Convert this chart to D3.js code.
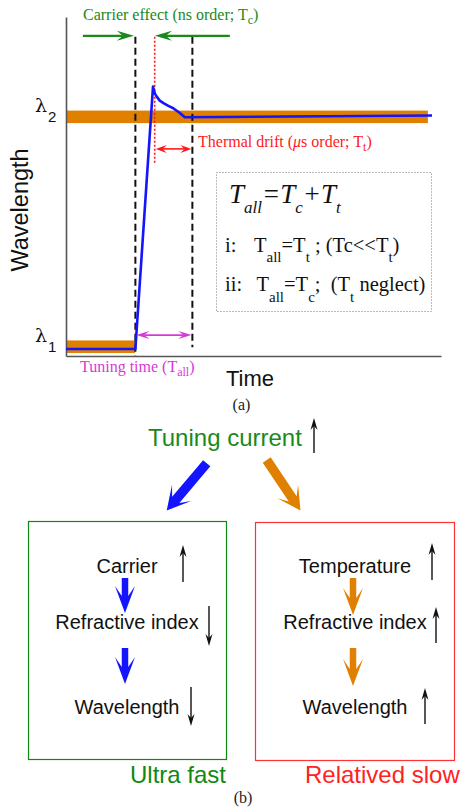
<!DOCTYPE html>
<html><head><meta charset="utf-8">
<script src="https://cdn.jsdelivr.net/npm/d3@7"></script>
<style>body{margin:0;background:#fff} svg{display:block}</style>
</head><body>
<svg id="c" width="461" height="808"></svg>
<script>
// ---------- data (panel a) ----------
const timeVals = [0, 18.5, 23.2, 23.7, 24.2, 25.0, 26.0, 27.3, 28.6, 30.1, 31.7, 97.6];
const waveVals = [0, 0, 1.13, 1.10, 1.087, 1.07, 1.059, 1.047, 1.037, 1.02, 0.998, 1.006];
const bandStart = [0, 0];
const bandEnd = [18.4, 96.5];
const bandLevel = [0.01, 1.0];
const bandHalf = 0.027;
const levelSubs = ["1", "2"];
const dashedTimes = [18.5, 33.7];
const dashedTop = 1.345;
const dashedBottom = [-0.03, 0.008];
const carrierTime = 23.65;
const carrierBottom = 0.80;
const carrierArrowLevel = 1.349;
const carrierArrowFrom = [4.5, 43.7];
const carrierArrowTo = [18.1, 23.7];
const thermalLevel = 0.862;
const tuningLevel = 0.06;

// ---------- data (panel b) ----------
const leftLabels = ["Carrier", "Refractive index", "Wavelength"];
const leftDirs = ["up", "down", "down"];
const rightLabels = ["Temperature", "Refractive index", "Wavelength"];
const rightDirs = ["up", "up", "up"];

const svg = d3.select("#c");
const x = d3.scaleLinear().domain([0, 100]).range([66, 441]);
const y = d3.scaleLinear().domain([-0.03, 1.43]).range([356, 17]);

const GREEN = "#1a8a1a", RED = "#ff1a1a", MAG = "#d63ad6", ORANGE = "#e08000", BLUE = "#1414ff";
const SERIF = "'Liberation Serif','Times New Roman',serif";
const SANS = "'Liberation Sans',Arial,sans-serif";

function headPath(tx, ty, ang, len, w, join) {
  const c = Math.cos(ang), s = Math.sin(ang);
  const P = (u, v) => [tx + u * c - v * s, ty + u * s + v * c];
  const pts = [P(0, 0), P(-len, -w / 2), P(-join, 0), P(-len, w / 2)];
  return "M" + pts.map(p => p.join(",")).join("L") + "Z";
}
function lineArrow(g, x1, y1, x2, y2, color, sw, len, w, join, both) {
  const ang = Math.atan2(y2 - y1, x2 - x1);
  const c = Math.cos(ang), s = Math.sin(ang);
  const sx = both ? x1 + c * join : x1, sy = both ? y1 + s * join : y1;
  g.append("line").attr("x1", sx).attr("y1", sy).attr("x2", x2 - c * join).attr("y2", y2 - s * join)
    .attr("stroke", color).attr("stroke-width", sw);
  g.append("path").attr("d", headPath(x2, y2, ang, len, w, join)).attr("fill", color);
  if (both) g.append("path").attr("d", headPath(x1, y1, ang + Math.PI, len, w, join)).attr("fill", color);
}
function fatArrow(g, x1, y1, x2, y2, color, sw, hw, barbBack, joinBack) {
  const L = Math.hypot(x2 - x1, y2 - y1);
  const ang = Math.atan2(y2 - y1, x2 - x1);
  const c = Math.cos(ang), s = Math.sin(ang);
  const P = (u, v) => [x1 + u * c - v * s, y1 + u * s + v * c];
  const pts = [P(0, -sw / 2), P(L - joinBack, -sw / 2), P(L - barbBack, -hw / 2), P(L, 0),
               P(L - barbBack, hw / 2), P(L - joinBack, sw / 2), P(0, sw / 2)];
  g.append("path").attr("d", "M" + pts.map(p => p.join(",")).join("L") + "Z").attr("fill", color);
}

// ---------- panel a ----------
const ga = svg.append("g");

ga.selectAll("rect.band").data(bandLevel).enter().append("rect")
  .attr("x", (d, i) => x(bandStart[i]))
  .attr("width", (d, i) => x(bandEnd[i]) - x(bandStart[i]))
  .attr("y", d => y(d + bandHalf))
  .attr("height", d => y(d - bandHalf) - y(d + bandHalf))
  .attr("fill", ORANGE);

ga.append("g").attr("transform", `translate(${x(0)},0)`)
  .call(d3.axisLeft(y).tickValues([]).tickSizeOuter(0))
  .select(".domain").attr("stroke", "#555").attr("stroke-width", 1.6);
ga.append("g").attr("transform", `translate(0,${y(-0.03)})`)
  .call(d3.axisBottom(x).tickValues([]).tickSizeOuter(0))
  .select(".domain").attr("stroke", "#555").attr("stroke-width", 1.6);

ga.selectAll("line.dash").data(dashedTimes).enter().append("line")
  .attr("x1", d => x(d)).attr("x2", d => x(d))
  .attr("y1", y(dashedTop)).attr("y2", (d, i) => y(dashedBottom[i]))
  .attr("stroke", "#111").attr("stroke-width", 2).attr("stroke-dasharray", "7,4");
ga.append("line").attr("x1", x(carrierTime)).attr("x2", x(carrierTime))
  .attr("y1", y(dashedTop)).attr("y2", y(carrierBottom))
  .attr("stroke", RED).attr("stroke-width", 1.6).attr("stroke-dasharray", "2,2");

const pts = timeVals.map((t, i) => [t, waveVals[i]]);
ga.append("path").datum(pts)
  .attr("d", d3.line().x(d => x(d[0])).y(d => y(d[1])))
  .attr("fill", "none").attr("stroke", BLUE).attr("stroke-width", 2.6).attr("stroke-linejoin", "round");

carrierArrowFrom.forEach((f, i) => {
  lineArrow(ga, x(f), y(carrierArrowLevel), x(carrierArrowTo[i]), y(carrierArrowLevel), GREEN, 2.2, 17, 10, 11, false);
});
lineArrow(ga, x(carrierTime) + 1, y(thermalLevel), x(dashedTimes[1]) - 1, y(thermalLevel), RED, 1.6, 11, 8, 7, true);
lineArrow(ga, x(dashedTimes[0]) + 1, y(tuningLevel), x(dashedTimes[1]) - 1, y(tuningLevel), MAG, 1.6, 13, 8, 8, true);

bandLevel.forEach((lv, i) => {
  const t = ga.append("text").attr("x", 35).attr("y", y(lv) - 4.5)
    .attr("font-family", "'DejaVu Serif',serif").attr("font-size", 19).attr("fill", "#111");
  t.append("tspan").text("λ");
  t.append("tspan").attr("dx", 1).attr("dy", 10).attr("font-family", SANS).attr("font-size", 15).text(levelSubs[i]);
});

ga.append("text").attr("x", 250).attr("y", 385.5).attr("text-anchor", "middle")
  .attr("font-family", SANS).attr("font-size", 22).attr("fill", "#111").text("Time");
ga.append("text").attr("transform", "translate(28,210) rotate(-90)").attr("text-anchor", "middle")
  .attr("font-family", SANS).attr("font-size", 23.5).attr("fill", "#111").text("Wavelength");

function subText(g, xx, yy, color, size, parts) {
  const t = g.append("text").attr("x", xx).attr("y", yy).attr("font-family", SERIF)
    .attr("font-size", size).attr("fill", color).attr("xml:space", "preserve");
  parts.forEach(p => {
    const ts = t.append("tspan").text(p[0]);
    if (p[1]) ts.attr("font-size", p[1]);
    if (p[2]) ts.attr("dy", p[2]);
    if (p[3]) ts.attr("font-style", "italic");
    if (p[4] !== undefined) ts.attr("x", p[4]);
  });
  return t;
}
subText(ga, 83, 20, GREEN, 16, [["Carrier effect (ns order; T"], ["c", 12, 4], [")", null, -4]]);
subText(ga, 198, 146.5, RED, 16, [["Thermal drift ("], ["μ", null, null, true], ["s order; T"], ["t", 12, 4], [")", null, -4]]);
subText(ga, 80, 371.5, MAG, 16, [["Tuning time (T"], ["all", 12, 4], [")", null, -4]]);

ga.append("rect").attr("x", 216.5).attr("y", 172.5).attr("width", 215).attr("height", 139)
  .attr("fill", "none").attr("stroke", "#777").attr("stroke-width", 1).attr("stroke-dasharray", "1,2");
subText(ga, 229, 203, "#111", 27, [["T", null, null, true], ["all", 17, 10, true], ["=T", null, -10, true],
  ["c", 17, 10, true], ["+T", null, -10, true], ["t", 17, 10, true]]);
subText(ga, 225, 252, "#111", 20.5, [["i:"], ["T", null, null, false, 254], ["all", 15, 10], ["=T", null, -10],
  ["t", 15, 10], [" ; (Tc<<T", null, -10], ["t", 15, 10], [")", null, -10]]);
subText(ga, 225, 291, "#111", 20.5, [["ii:"], ["T", null, null, false, 256.5], ["all", 15, 11], ["=T", null, -11],
  ["c", 15, 11], [";  (T", null, -11], ["t", 15, 11], [" neglect)", null, -11]]);

ga.append("text").attr("x", 241.5).attr("y", 410).attr("text-anchor", "middle")
  .attr("font-family", SERIF).attr("font-size", 16).attr("fill", "#222").text("(a)");

// ---------- panel b ----------
const gb = svg.append("g");
gb.append("text").attr("x", 148).attr("y", 445.5).attr("font-family", SANS).attr("font-size", 24)
  .attr("fill", GREEN).text("Tuning current");
lineArrow(gb, 314, 453, 314, 418, "#111", 1.4, 12, 7, 8, false);

fatArrow(gb, 206.7, 463.3, 166.7, 510.5, BLUE, 9.5, 25, 23, 14);
fatArrow(gb, 266.7, 460, 300.5, 510.5, ORANGE, 9.5, 25, 23, 14);

const boxes = [
  {x0: 28.5, x1: 226.5, y0: 521.5, y1: 759.5, color: "#118811", labels: leftLabels, dirs: leftDirs, cx: 127,
   fat: BLUE, arrowX: [183, 209, 191], title: "Ultra fast", titleX: 130},
  {x0: 255.5, x1: 454.5, y0: 522.5, y1: 760.5, color: "#ff3333", labels: rightLabels, dirs: rightDirs, cx: 355,
   fat: ORANGE, arrowX: [432, 436, 425], title: "Relatived slow", titleX: 305}
];
const rowBase = [573, 629, 714];
const rowArrowSpan = [[545, 582], [606, 646], [687, 726]];
const rightArrowSpan = [[543, 580], [607, 643], [688, 724]];
const fatSpan = [[578, 613], [648, 684]];

boxes.forEach((b, bi) => {
  gb.append("rect").attr("x", b.x0).attr("y", b.y0).attr("width", b.x1 - b.x0).attr("height", b.y1 - b.y0)
    .attr("fill", "none").attr("stroke", b.color).attr("stroke-width", 1.2);
  b.labels.forEach((lab, i) => {
    gb.append("text").attr("x", b.cx).attr("y", rowBase[i]).attr("text-anchor", "middle")
      .attr("font-family", SANS).attr("font-size", 20).attr("fill", "#111").text(lab);
    const span = (bi === 0 ? rowArrowSpan : rightArrowSpan)[i];
    const ax = b.arrowX[i];
    if (b.dirs[i] === "up") lineArrow(gb, ax, span[1], ax, span[0], "#111", 1.4, 12, 7, 8, false);
    else lineArrow(gb, ax, span[0], ax, span[1], "#111", 1.4, 12, 7, 8, false);
  });
  fatSpan.forEach((fs, i) => {
    const fx = b.cx - 2;
    fatArrow(gb, fx, fs[0], fx, fs[1] + (bi === 1 ? 2 : 0), b.fat, 6.5, 20, 27, 17);
  });
  gb.append("text").attr("x", b.titleX).attr("y", 783).attr("font-family", SANS).attr("font-size", 24)
    .attr("fill", bi === 0 ? "#118811" : "#ff2222").text(b.title);
});

gb.append("text").attr("x", 243).attr("y", 803).attr("text-anchor", "middle")
  .attr("font-family", SERIF).attr("font-size", 16).attr("fill", "#222").text("(b)");
</script>
</body></html>
